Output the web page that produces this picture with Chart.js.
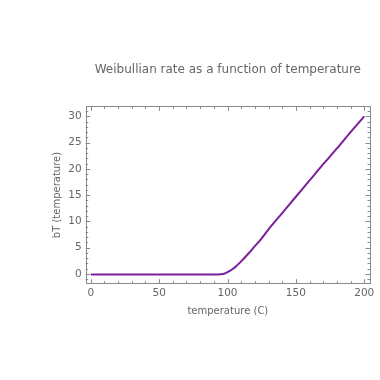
<!DOCTYPE html>
<html>
<head>
<meta charset="utf-8">
<script src="https://cdn.jsdelivr.net/npm/chart.js@4/dist/chart.umd.min.js"></script>
<style>
html,body{margin:0;padding:0;background:#fff;}
#wrap{width:380px;height:380px;}
</style>
</head>
<body>
<div id="wrap"><canvas id="c" width="380" height="380"></canvas></div>
<script>
// Data
const temperature = [0, 10, 20, 30, 40, 50, 60, 70, 80, 90, 95, 98, 100, 102, 104, 106, 108, 110, 115, 120, 125, 130, 140, 150, 160, 170, 180, 190, 200];
const rate = [-0.1, -0.1, -0.1, -0.1, -0.1, -0.1, -0.1, -0.1, -0.1, -0.1, -0.05, 0.1, 0.35, 0.65, 1.0, 1.4, 1.9, 2.4, 3.8, 5.3, 6.8, 8.5, 11.6, 14.7, 17.8, 20.9, 23.9, 27.0, 30.0];
const xMajorTicks = [0, 50, 100, 150, 200];
const yMajorTicks = [0, 5, 10, 15, 20, 25, 30];
const titleText = 'Weibullian rate as a function of temperature';
const xTitle = 'temperature (C)';
const yTitle = 'bT (temperature)';

const points = temperature.map((t, i) => ({x: t, y: rate[i]}));
const textColor = '#666666';
const frameColor = '#8a8a8a';

const framePlugin = {
  id: 'frameTicks',
  afterLayout(chart) {
    const ca = chart.chartArea;
    if (chart.titleBlock) {
      chart.titleBlock.left = ca.left;
      chart.titleBlock.right = ca.right;
    }
  },
  afterDatasetsDraw(chart) {
    const ctx = chart.ctx;
    const ca = chart.chartArea;
    const xs = chart.scales.x, ys = chart.scales.y;
    ctx.save();
    ctx.strokeStyle = frameColor;
    ctx.lineWidth = 1;
    ctx.strokeRect(Math.round(ca.left) + 0.5, Math.round(ca.top) + 0.5, Math.round(ca.right - ca.left), Math.round(ca.bottom - ca.top));
    ctx.beginPath();
    for (let v = 0; v <= 200; v += 10) {
      const px = Math.round(xs.getPixelForValue(v)) + 0.5;
      const len = (v % 50 === 0) ? 4.5 : 2.5;
      ctx.moveTo(px, ca.bottom); ctx.lineTo(px, ca.bottom - len);
      ctx.moveTo(px, ca.top); ctx.lineTo(px, ca.top + len);
    }
    for (let v = -1; v <= 31; v += 1) {
      const py = Math.round(ys.getPixelForValue(v)) + 0.5;
      const len = (v % 5 === 0) ? 4.5 : 2.5;
      ctx.moveTo(ca.left, py); ctx.lineTo(ca.left + len, py);
      ctx.moveTo(ca.right, py); ctx.lineTo(ca.right - len, py);
    }
    ctx.stroke();
    ctx.restore();
  }
};

new Chart(document.getElementById('c'), {
  type: 'line',
  data: {
    datasets: [{
      data: points,
      borderColor: '#7b1f9a',
      borderWidth: 2,
      pointRadius: 0,
      tension: 0.4,
      cubicInterpolationMode: 'monotone',
      fill: false
    }]
  },
  options: {
    responsive: false,
    animation: false,
    layout: {padding: {left: 0, right: 10, top: 0, bottom: 0}},
    plugins: {
      legend: {display: false},
      tooltip: {enabled: false},
      title: {
        display: true,
        text: titleText,
        color: textColor,
        font: {family: 'DejaVu Sans', size: 12, weight: 'normal'},
        padding: {top: 63, bottom: 29}
      }
    },
    scales: {
      x: {
        type: 'linear',
        min: -3.7,
        max: 204.2,
        afterBuildTicks: s => { s.ticks = xMajorTicks.map(v => ({value: v})); },
        afterFit: s => { s.height = 96.3; },
        grid: {display: false, drawTicks: false},
        border: {display: false},
        ticks: {color: textColor, font: {family: 'DejaVu Sans', size: 10.5}, padding: 3, maxRotation: 0},
        title: {display: true, text: xTitle, color: textColor, font: {family: 'DejaVu Sans', size: 10}, padding: {top: 0, bottom: 63}}
      },
      y: {
        type: 'linear',
        min: -1.85,
        max: 31.9,
        afterBuildTicks: s => { s.ticks = yMajorTicks.map(v => ({value: v})); },
        afterFit: s => { s.width = 85.7; },
        grid: {display: false, drawTicks: false},
        border: {display: false},
        ticks: {color: textColor, font: {family: 'DejaVu Sans', size: 10.5}, padding: 4},
        title: {display: true, text: yTitle, color: textColor, font: {family: 'DejaVu Sans', size: 10}, padding: {top: 51, bottom: 0}}
      }
    }
  },
  plugins: [framePlugin]
});
</script>
</body>
</html>
